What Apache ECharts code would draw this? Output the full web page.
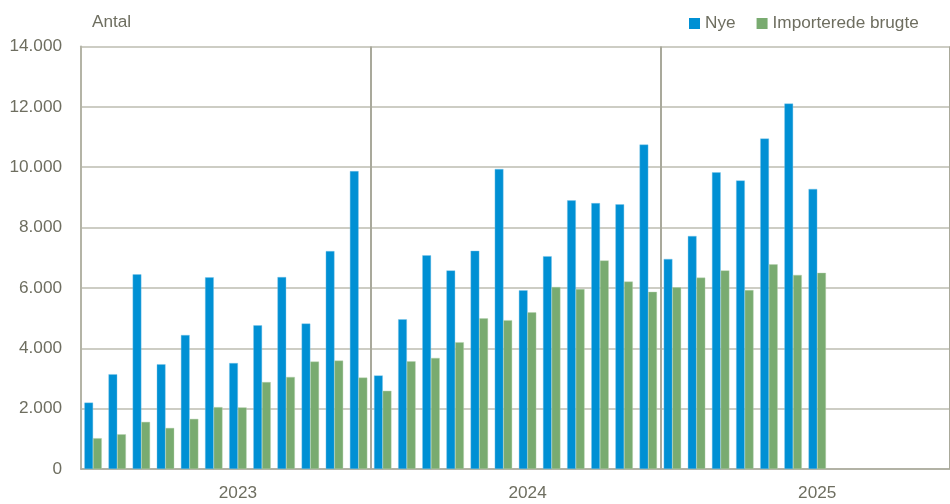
<!DOCTYPE html>
<html>
<head>
<meta charset="utf-8">
<script src="https://cdn.jsdelivr.net/npm/echarts@6/dist/echarts.min.js"></script>
<style>
    html, body { margin: 0; padding: 0; background: #fff; }
    #chart { width: 950px; height: 504px; }
</style>
</head>
<body>
<div id="chart"></div>
<script>
    // one entry per month, Jan 2023 - Dec 2025 (rest of 2025 not published yet)
    var years = ['2023', '2024', '2025'];
    var months = [];
    years.forEach(function (y) {
        for (var m = 1; m <= 12; m++) months.push(y + '-' + (m < 10 ? '0' + m : m));
    });

    var nye = [
        2200, 3140, 6450, 3470, 4440, 6350, 3510, 4760, 6360, 4820, 7220, 9870,
        3100, 4960, 7080, 6580, 7230, 9940, 5920, 7050, 8900, 8810, 8770, 10750,
        6960, 7720, 9830, 9560, 10950, 12110, 9280, null, null, null, null, null
    ];
    var brugte = [
        1020, 1150, 1560, 1360, 1660, 2050, 2040, 2880, 3050, 3560, 3590, 3030,
        2590, 3570, 3680, 4200, 4990, 4930, 5190, 6030, 5960, 6910, 6210, 5870,
        6020, 6340, 6580, 5930, 6780, 6430, 6500, null, null, null, null, null
    ];

    var textColor = '#6e6e60';
    var font = "'Liberation Sans', Arial, sans-serif";
    var fs = 17.2;

    var chart = echarts.init(document.getElementById('chart'));
    chart.setOption({
        animation: false,
        textStyle: { fontFamily: font },
        title: {
            text: 'Antal',
            left: 87,
            top: 9,
            textStyle: { color: textColor, fontSize: fs, fontWeight: 'normal', fontFamily: font }
        },
        legend: {
            left: 684,
            top: 10,
            width: 300,
            itemWidth: 11,
            itemHeight: 11,
            itemGap: 21,
            icon: 'rect',
            itemStyle: { borderWidth: 0 },
            textStyle: { color: textColor, fontSize: fs, fontFamily: font },
            data: ['Nye', 'Importerede brugte']
        },
        grid: { left: 81, top: 46.5, width: 877, bottom: 35 },
        xAxis: {
            type: 'category',
            data: months,
            axisTick: { show: false },
            axisLine: { show: true, lineStyle: { color: '#a9a99b', width: 1.5 } },
            axisLabel: {
                interval: 0,
                margin: 16,
                color: textColor,
                fontSize: fs,
                fontFamily: font,
                formatter: function (v) {
                    return v.slice(5) === '07' ? v.slice(0, 4) : '';
                }
            },
            splitLine: {
                show: true,
                interval: function (idx) { return idx === 12 || idx === 24; },
                lineStyle: { color: '#a9a99b', width: 2 }
            }
        },
        yAxis: {
            type: 'value',
            min: 0,
            max: 14000,
            interval: 2000,
            axisLine: { show: true, lineStyle: { color: '#b4b4a6', width: 2 } },
            axisTick: { show: false },
            axisLabel: {
                margin: 19,
                color: textColor,
                fontSize: fs,
                fontFamily: font,
                formatter: function (v) {
                    return String(v).replace(/\B(?=(\d{3})+(?!\d))/g, '.');
                }
            },
            splitLine: { lineStyle: { color: '#bdbdb0', width: 1.5 } }
        },
        series: [
            {
                name: 'Nye',
                type: 'bar',
                data: nye,
                barGap: 0,
                barCategoryGap: '28%',
                itemStyle: { color: '#0090d4', borderColor: '#7cc4e8', borderWidth: 0.4 }
            },
            {
                name: 'Importerede brugte',
                type: 'bar',
                data: brugte,
                itemStyle: { color: '#79ab70', borderColor: '#b5d2ae', borderWidth: 0.4 }
            }
        ]
    });
</script>
</body>
</html>
